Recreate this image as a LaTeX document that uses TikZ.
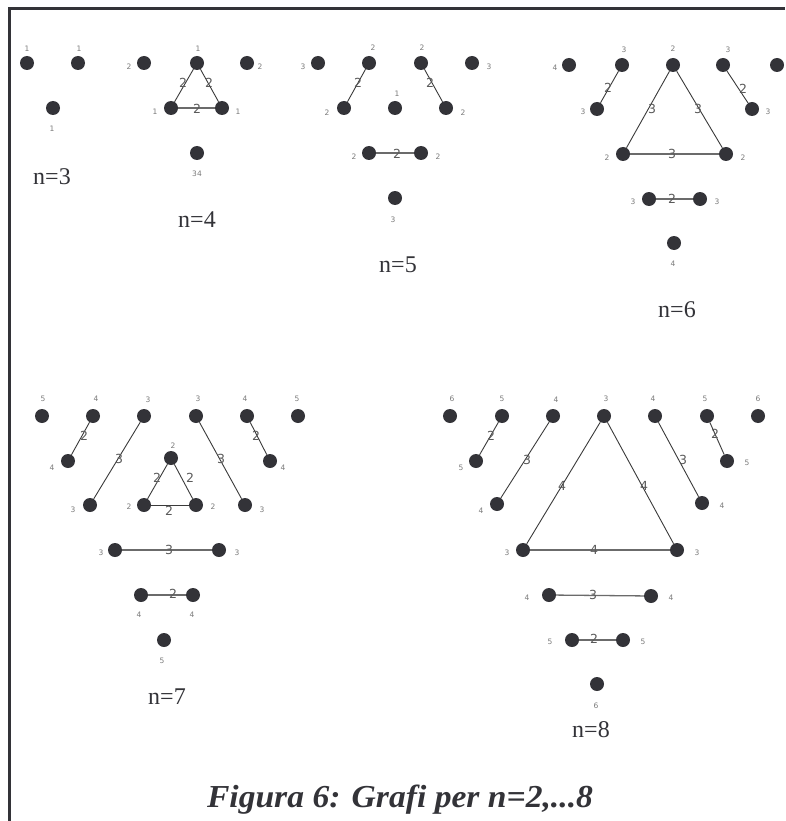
\documentclass[tikz,border=0pt]{standalone}
\usepackage{fontspec}
\setmainfont{Liberation Serif}
\newfontfamily\labfont{DejaVu Sans}
\definecolor{dotc}{HTML}{333338}
\definecolor{labc}{HTML}{7A7A7A}
\definecolor{elabc}{HTML}{5A5A5A}
\definecolor{edgec}{HTML}{3A3A3A}
\definecolor{framec}{HTML}{333338}
\tikzset{
  dot/.style={circle,fill=dotc,draw=none,minimum size=14pt,inner sep=0pt},
  lab/.style={font=\labfont\fontsize{7.5}{8}\selectfont,text=labc,inner sep=0pt},
  elab/.style={font=\labfont\fontsize{12.5}{13}\selectfont,text=elabc,inner sep=0pt},
  edge/.style={draw=edgec,line width=0.9pt},
  hedge/.style={draw=edgec!75,line width=1.3pt},
  title/.style={font=\fontsize{24}{26}\selectfont,text=dotc,inner sep=0pt},
  caption/.style={font=\bfseries\itshape\fontsize{32}{34}\selectfont,text=dotc,inner sep=0pt},
  frame/.style={draw=framec,line width=3pt}
}
\newcommand\D[4]{\node[dot] (#1) at (#2) {}; \node[lab] (#1l) at (#3) {#4};}
\begin{document}
\begin{tikzpicture}[x=1pt,y=-1pt]
\useasboundingbox (0,0) rectangle (785,821);
\coordinate (fa) at (9,821);
\coordinate (fb) at (9,9);
\coordinate (fc) at (785,9);
\draw[frame] (fa) -- (fb) -- (fc);
% n=3
\D{a1}{27,63}{27,49}{1}
\D{a2}{78,63}{79,49}{1}
\D{a3}{53,108}{52,129}{1}
\node[title] (t3) at (52,177) {n=3};
% n=4
\D{b1}{144,63}{129,67}{2}
\D{b2}{197,63}{198,49}{1}
\D{b3}{247,63}{260,67}{2}
\D{b4}{171,108}{155,112}{1}
\D{b5}{222,108}{238,112}{1}
\D{b6}{197,153}{197,174}{34}
\draw[edge] (b2) -- (b4);
\draw[edge] (b2) -- (b5);
\draw[hedge] (b4) -- (b5);
\node[elab] (eb1) at (183,83) {2};
\node[elab] (eb2) at (209,83) {2};
\node[elab] (eb3) at (197,109) {2};
\node[title] (t4) at (197,220) {n=4};
% n=5
\D{c1}{318,63}{303,67}{3}
\D{c2}{369,63}{373,48}{2}
\D{c3}{421,63}{422,48}{2}
\D{c4}{472,63}{489,67}{3}
\D{c5}{344,108}{327,113}{2}
\D{c6}{395,108}{397,94}{1}
\D{c7}{446,108}{463,113}{2}
\D{c8}{369,153}{354,157}{2}
\D{c9}{421,153}{438,157}{2}
\D{c10}{395,198}{393,220}{3}
\draw[edge] (c2) -- (c5);
\draw[edge] (c3) -- (c7);
\draw[hedge] (c8) -- (c9);
\node[elab] (ec1) at (358,83) {2};
\node[elab] (ec2) at (430,83) {2};
\node[elab] (ec3) at (397,154) {2};
\node[title] (t5) at (398,265) {n=5};
% n=6
\D{d1}{569,65}{555,68}{4}
\D{d2}{622,65}{624,50}{3}
\D{d3}{673,65}{673,49}{2}
\D{d4}{723,65}{728,50}{3}
\node[dot] (d5) at (777,65) {};
\D{d6}{597,109}{583,112}{3}
\D{d7}{752,109}{768,112}{3}
\D{d8}{623,154}{607,158}{2}
\D{d9}{726,154}{743,158}{2}
\D{d10}{649,199}{633,202}{3}
\D{d11}{700,199}{717,202}{3}
\D{d12}{674,243}{673,264}{4}
\draw[edge] (d2) -- (d6);
\draw[edge] (d3) -- (d8);
\draw[edge] (d3) -- (d9);
\draw[edge] (d4) -- (d7);
\draw[hedge] (d8) -- (d9);
\draw[hedge] (d10) -- (d11);
\node[elab] (ed1) at (608,88) {2};
\node[elab] (ed2) at (652,109) {3};
\node[elab] (ed3) at (698,109) {3};
\node[elab] (ed4) at (743,89) {2};
\node[elab] (ed5) at (672,154) {3};
\node[elab] (ed6) at (672,199) {2};
\node[title] (t6) at (677,310) {n=6};
% n=7
\D{e1}{42,416}{43,399}{5}
\D{e2}{93,416}{96,399}{4}
\D{e3}{144,416}{148,400}{3}
\D{e4}{196,416}{198,399}{3}
\D{e5}{247,416}{245,399}{4}
\D{e6}{298,416}{297,399}{5}
\D{e7}{68,461}{52,468}{4}
\D{e8}{270,461}{283,468}{4}
\D{e9}{171,458}{173,446}{2}
\D{e10}{90,505}{73,510}{3}
\D{e11}{144,505}{129,507}{2}
\D{e12}{196,505}{213,507}{2}
\D{e13}{245,505}{262,510}{3}
\D{e14}{115,550}{101,553}{3}
\D{e15}{219,550}{237,553}{3}
\D{e16}{141,595}{139,615}{4}
\D{e17}{193,595}{192,615}{4}
\D{e18}{164,640}{162,661}{5}
\draw[edge] (e2) -- (e7);
\draw[edge] (e3) -- (e10);
\draw[edge] (e4) -- (e13);
\draw[edge] (e5) -- (e8);
\draw[edge] (e9) -- (e11);
\draw[edge] (e9) -- (e12);
\draw[edge] (e11) -- (e12);
\draw[hedge] (e14) -- (e15);
\draw[hedge] (e16) -- (e17);
\node[elab] (ee1) at (84,436) {2};
\node[elab] (ee2) at (119,459) {3};
\node[elab] (ee3) at (221,459) {3};
\node[elab] (ee4) at (256,436) {2};
\node[elab] (ee5) at (157,478) {2};
\node[elab] (ee6) at (190,478) {2};
\node[elab] (ee7) at (169,511) {2};
\node[elab] (ee8) at (169,550) {3};
\node[elab] (ee9) at (173,594) {2};
\node[title] (t7) at (167,697) {n=7};
% n=8
\D{f1}{450,416}{452,399}{6}
\D{f2}{502,416}{502,399}{5}
\D{f3}{553,416}{556,400}{4}
\D{f4}{604,416}{606,399}{3}
\D{f5}{655,416}{653,399}{4}
\D{f6}{707,416}{705,399}{5}
\D{f7}{758,416}{758,399}{6}
\D{f8}{476,461}{461,468}{5}
\D{f9}{727,461}{747,463}{5}
\D{f10}{497,504}{481,511}{4}
\D{f11}{702,503}{722,506}{4}
\D{f12}{523,550}{507,553}{3}
\D{f13}{677,550}{697,553}{3}
\D{f14}{549,595}{527,598}{4}
\D{f15}{651,596}{671,598}{4}
\D{f16}{572,640}{550,642}{5}
\D{f17}{623,640}{643,642}{5}
\D{f18}{597,684}{596,706}{6}
\draw[edge] (f2) -- (f8);
\draw[edge] (f3) -- (f10);
\draw[edge] (f4) -- (f12);
\draw[edge] (f4) -- (f13);
\draw[edge] (f5) -- (f11);
\draw[edge] (f6) -- (f9);
\draw[hedge] (f12) -- (f13);
\draw[hedge] (f14) -- (f15);
\draw[hedge] (f16) -- (f17);
\node[elab] (ef1) at (491,436) {2};
\node[elab] (ef2) at (527,460) {3};
\node[elab] (ef3) at (562,486) {4};
\node[elab] (ef4) at (644,486) {4};
\node[elab] (ef5) at (683,460) {3};
\node[elab] (ef6) at (715,434) {2};
\node[elab] (ef7) at (594,550) {4};
\node[elab] (ef8) at (593,595) {3};
\node[elab] (ef9) at (594,639) {2};
\node[title] (t8) at (591,730) {n=8};
% caption
\node[caption,anchor=base] (cap) at (400,807) {\scalebox{1.05}[1]{Figura 6: Grafi per n=2,...8}};
\end{tikzpicture}
\end{document}
